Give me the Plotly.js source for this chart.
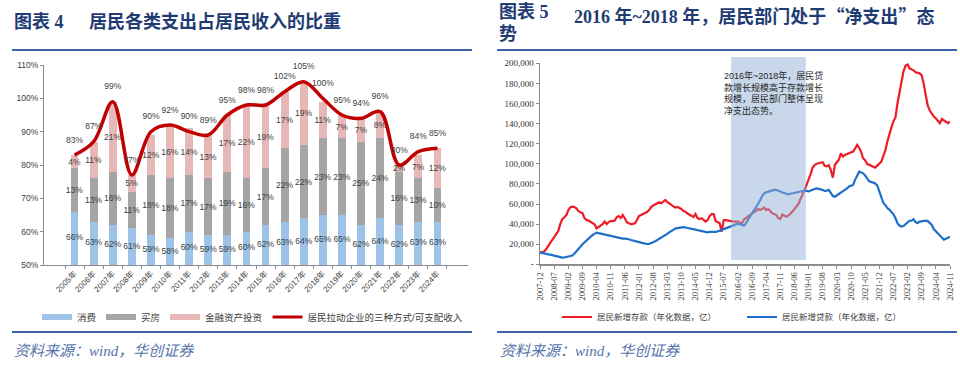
<!DOCTYPE html>
<html>
<head>
<meta charset="utf-8">
<script src="https://cdn.plot.ly/plotly-3.0.1.min.js"></script>
<style>html,body{margin:0;padding:0;background:#fff;}#chart{width:960px;height:369px;}</style>
</head>
<body>
<div id="chart"></div>
<script>
// ---------- Left chart data (图表4) ----------
const years = ['2005年','2006年','2007年','2008年','2009年','2010年','2011年','2012年','2013年','2014年','2015年','2016年','2017年','2018年','2019年','2020年','2021年','2022年','2023年','2024年'];
const consumption = [66,63,62,61,59,58,60,59,59,60,62,63,64,65,65,62,64,62,63,63];
const housing     = [13,13,16,11,18,18,17,17,19,16,17,22,22,23,23,25,24,16,13,10];
const financial   = [4,11,21,5,12,16,14,13,17,22,19,17,19,11,7,7,8,2,7,12];
const totalRatio  = [83,87,99,77,90,92,90,89,95,98,98,102,105,100,95,94,96,80,84,85];
const leftNames = ['消费','买房','金融资产投资','居民拉动企业的三种方式/可支配收入'];
const leftRange = [50,110];

// ---------- Right chart data (图表5), 2007-12 .. 2024-11 monthly, 亿 ----------
const startMonth = '2007-12';
const deposits = [
11600,12000,12600,15000,17600,21000,24000,27000,29000,33000,
40000,45000,46800,49000,54000,56700,57400,57000,55700,53000,
51700,51000,46000,44000,43500,42500,41000,39800,35800,37000,
38500,40000,42500,40000,42000,43000,43000,43500,47000,48000,
46000,49000,45800,42000,40800,40000,40200,40800,44000,48000,
49000,50000,50700,52000,54000,57000,58500,59700,61000,61700,
60700,62000,64000,62000,60700,59000,57500,56400,57000,56000,
55000,53000,52400,50500,49800,48400,47000,50000,46000,45000,
45800,44000,42500,44000,48000,50000,50000,43000,41500,40800,
32500,44000,44000,43500,43000,43000,42500,42500,42500,41500,
40800,44500,46000,48000,49800,51000,52400,54000,55000,54000,
55000,56400,54000,55000,53000,50700,50000,49000,46000,45000,
49500,48500,47400,48400,50000,52400,55000,57400,60000,65000,
69000,74000,79000,84000,90000,96000,98800,100000,100500,100500,
101500,98000,97500,98500,93900,86200,98800,101500,104000,110500,
107100,108800,109500,110500,111000,112100,115000,118800,116000,112000,
105500,103500,100000,98800,97900,97000,96200,98000,100000,102200,
108000,113000,122000,130000,136000,142000,146000,160000,172000,183400,
192000,197500,199000,195000,194000,193000,191000,190500,190000,188000,
180000,168500,158000,153000,149300,147000,145300,142500,140300,144600,
143000,142000,140500,142000];
const loans = [
11600,11300,11000,10500,10000,9500,9200,8600,8000,7300,
6800,6600,6800,7300,7600,7600,8800,10500,12600,15000,
17500,20000,22000,23900,25700,27500,29200,30300,31500,31000,
30500,29900,29300,28900,28500,28200,27800,27000,26500,26000,
25500,25500,25600,25500,24900,24200,23800,23500,22800,22300,
21600,21000,20500,20200,20400,20900,22000,23000,24200,25300,
26000,27400,28700,30200,31800,33200,34400,35500,36000,36500,
36800,36900,36600,36300,36000,35600,35000,34500,34000,33500,
33200,32600,32000,31800,32200,32500,32300,32200,32600,33200,
34000,35000,35800,36500,37200,38000,39000,40000,40500,40000,
39000,38500,41000,44500,48000,51000,54000,57000,60000,64000,
68000,70500,71600,72300,73000,73500,74000,74000,73500,72500,
71500,70700,70000,69700,70200,70700,71000,71300,71500,72200,
73000,73300,73000,72500,73500,74600,75000,75500,75300,74500,
74000,73000,73300,74000,71000,68000,67300,68500,69700,71000,
72500,74000,75500,77500,78500,79000,84000,89000,92200,91500,
90500,88500,85500,82500,82000,81300,80500,78300,72500,66000,
61000,59000,56000,54500,52600,50000,46000,41000,38500,37500,
38000,40000,42500,43300,43500,44800,42000,41000,42500,43000,
43500,43400,43000,41000,39100,35000,33000,30500,29000,26500,
24500,25500,26500,27500];
const rightNames = ['居民新增存款（年化数据，亿）','居民新增贷款（年化数据，亿）'];
const yTickVals = [0,20000,40000,60000,80000,100000,120000,140000,160000,180000,200000];
const yTickText = ['-','20,000','40,000','60,000','80,000','100,000','120,000','140,000','160,000','180,000','200,000'];
const shadeStart = '2015-10-20', shadeEnd = '2018-11-20';
const noteText = '2016年~2018年，居民贷<br>款增长规模高于存款增长<br>规模，居民部门整体呈现<br>净支出态势。';

// month labels
const months = [];
{
  let y = +startMonth.slice(0,4), m = +startMonth.slice(5,7);
  for (let i = 0; i < deposits.length; i++) {
    months.push(y + '-' + String(m).padStart(2,'0') + '-01');
    m++; if (m > 12) { m = 1; y++; }
  }
}

// ---------- styling ----------
const W = 960, H = 369;
const px = v => v / W, py = v => 1 - v / H;
const SANS = 'Liberation Sans, Noto Sans CJK SC, sans-serif';
const SERIF = 'Liberation Serif, Noto Sans CJK SC, serif';
const TXT = '#404040';
const C_BLUE = '#9DC3E6', C_GRAY = '#A5A5A5', C_PINK = '#E6B9B8', C_RED = '#C00000';
const pct = arr => arr.map(v => v + '%');
const barCommon = {type:'bar', x: years, xaxis:'x', yaxis:'y', textposition:'inside', insidetextanchor:'middle',
  textangle:0, constraintext:'none', textfont:{size:8.5, color:TXT, family:SANS}, showlegend:false, hoverinfo:'skip'};

const traces = [
  Object.assign({}, barCommon, {name:leftNames[0], y:consumption, textposition:'none', marker:{color:C_BLUE}}),
  Object.assign({}, barCommon, {name:leftNames[1], y:housing, text:pct(housing), marker:{color:C_GRAY}}),
  Object.assign({}, barCommon, {name:leftNames[2], y:financial, text:pct(financial), marker:{color:C_PINK}}),
  // consumption labels, centred in the visible part of the bar (axis floor .. value)
  {type:'scatter', mode:'text', x:years, y:consumption.map(v => (leftRange[0] + v) / 2), text:pct(consumption),
   textposition:'middle center', textfont:{size:8.5, color:TXT, family:SANS}, xaxis:'x', yaxis:'y', showlegend:false, hoverinfo:'skip'},
  {type:'scatter', mode:'lines+markers+text', name:leftNames[3], x:years, y:totalRatio, xaxis:'x', yaxis:'y',
   line:{color:C_RED, width:3.5, shape:'spline', smoothing:1}, text:pct(totalRatio), textposition:'top center',
   textfont:{size:8.5, color:TXT, family:SANS}, marker:{size:15, opacity:0, color:C_RED}, showlegend:false, cliponaxis:false},
  // legend entries (left)
  {type:'scatter', mode:'lines', name:leftNames[0], x:[null], y:[null], xaxis:'x', yaxis:'y', line:{color:C_BLUE, width:6}, legend:'legend'},
  {type:'scatter', mode:'lines', name:leftNames[1], x:[null], y:[null], xaxis:'x', yaxis:'y', line:{color:C_GRAY, width:6}, legend:'legend'},
  {type:'scatter', mode:'lines', name:leftNames[2], x:[null], y:[null], xaxis:'x', yaxis:'y', line:{color:C_PINK, width:6}, legend:'legend'},
  {type:'scatter', mode:'lines', name:leftNames[3], x:[null], y:[null], xaxis:'x', yaxis:'y', line:{color:C_RED, width:3}, legend:'legend'},
  // right chart
  {type:'scatter', mode:'lines', name:rightNames[0], x:months, y:deposits, xaxis:'x2', yaxis:'y2',
   line:{color:'#EE1C25', width:2.2}, legend:'legend2'},
  {type:'scatter', mode:'lines', name:rightNames[1], x:months, y:loans, xaxis:'x2', yaxis:'y2',
   line:{color:'#1F6FC8', width:2.2}, legend:'legend2'}
];

const axisLine = {showline:true, linecolor:'#8C8C8C', linewidth:1, showgrid:false, zeroline:false, fixedrange:true};
const CJK = 'font-family:Noto Sans CJK SC';
const layout = {
  width: W, height: H, margin:{l:0, r:0, t:0, b:0}, paper_bgcolor:'#ffffff', plot_bgcolor:'rgba(0,0,0,0)',
  barmode:'stack', bargap:0.59,
  xaxis: Object.assign({}, axisLine, {domain:[px(44), px(468)], anchor:'y', type:'category', tickangle:-45,
    ticks:'outside', ticklen:3, tickson:'boundaries', tickcolor:'#8C8C8C',
    tickfont:{size:8, color:TXT, family:SANS}}),
  yaxis: Object.assign({}, axisLine, {domain:[py(265), py(65)], anchor:'x', range:leftRange, dtick:10, ticksuffix:'%',
    ticks:'outside', ticklen:3, tickcolor:'#8C8C8C', tickfont:{size:8.5, color:TXT, family:SANS}}),
  xaxis2: Object.assign({}, axisLine, {domain:[px(540), px(950)], anchor:'y2', type:'date',
    range:['2007-12-01','2024-11-01'], tick0:'2007-12-01', dtick:'M7', tickformat:'%Y-%m', tickangle:-90,
    ticks:'outside', ticklen:3, tickcolor:'#8C8C8C', linewidth:1.5, tickfont:{size:8.5, color:'#333', family:SERIF}}),
  yaxis2: Object.assign({}, axisLine, {domain:[py(264.3), py(63.3)], anchor:'x2', range:[0,200000],
    tickvals:yTickVals, ticktext:yTickText, ticks:'outside', ticklen:3, tickcolor:'#8C8C8C', linewidth:1.5,
    tickfont:{size:9, color:'#333', family:SERIF}}),
  legend: {orientation:'h', traceorder:'normal', x:px(37), y:py(317), xanchor:'left', yanchor:'middle', bgcolor:'rgba(0,0,0,0)',
    font:{size:9.5, color:TXT, family:SANS}, itemwidth:30},
  legend2: {orientation:'h', traceorder:'normal', x:px(557), y:py(317), xanchor:'left', yanchor:'middle', bgcolor:'rgba(0,0,0,0)',
    font:{size:8.5, color:TXT, family:SANS}, itemwidth:30, entrywidth:140, entrywidthmode:'pixels'},
  shapes: [
    {type:'line', xref:'paper', yref:'paper', x0:px(12), x1:px(472), y0:py(50), y1:py(50), line:{color:'#3D64A6', width:2}},
    {type:'line', xref:'paper', yref:'paper', x0:px(12), x1:px(472), y0:py(332), y1:py(332), line:{color:'#3D64A6', width:2}},
    {type:'line', xref:'paper', yref:'paper', x0:px(497), x1:px(957), y0:py(50), y1:py(50), line:{color:'#3D64A6', width:2}},
    {type:'line', xref:'paper', yref:'paper', x0:px(497), x1:px(957), y0:py(332), y1:py(332), line:{color:'#3D64A6', width:2}},
    {type:'rect', xref:'x2', yref:'paper', x0:shadeStart, x1:shadeEnd, y0:py(260), y1:py(57),
     fillcolor:'#93AFD5', opacity:0.5, line:{width:0}, layer:'above'}
  ],
  annotations: [
    {xref:'paper', yref:'paper', x:px(12), y:py(22), xanchor:'left', yanchor:'middle', showarrow:false,
     text:'图表 4', font:{size:18, color:'#1F3C74', family:SERIF, weight:'bold'}},
    {xref:'paper', yref:'paper', x:px(87), y:py(22), xanchor:'left', yanchor:'middle', showarrow:false,
     text:'居民各类支出占居民收入的比重', font:{size:18, color:'#1F3C74', family:SERIF, weight:'bold'}},
    {xref:'paper', yref:'paper', x:px(497), y:py(0), xanchor:'left', yanchor:'top', showarrow:false,
     text:'图表 5', font:{size:18, color:'#1F3C74', family:SERIF, weight:'bold'}},
    {xref:'paper', yref:'paper', x:px(572), y:py(0), xanchor:'left', yanchor:'top', showarrow:false,
     text:'2016 年~2018 年，居民部门处于<span style="' + CJK + '">“</span>净支出<span style="' + CJK + '">”</span>态',
     font:{size:18, color:'#1F3C74', family:SERIF, weight:'bold'}},
    {xref:'paper', yref:'paper', x:px(497), y:py(34), xanchor:'left', yanchor:'middle', showarrow:false,
     text:'势', font:{size:18, color:'#1F3C74', family:SERIF, weight:'bold'}},
    {xref:'paper', yref:'paper', x:px(12), y:py(351), xanchor:'left', yanchor:'middle', showarrow:false,
     text:'资料来源：wind，华创证券', font:{size:15, color:'#5573AA', family:SERIF, style:'italic'}},
    {xref:'paper', yref:'paper', x:px(498), y:py(351), xanchor:'left', yanchor:'middle', showarrow:false,
     text:'资料来源：wind，华创证券', font:{size:15, color:'#5573AA', family:SERIF, style:'italic'}},
    {xref:'paper', yref:'paper', x:px(722), y:py(68), xanchor:'left', yanchor:'top', showarrow:false, align:'left',
     text:noteText, font:{size:9, color:'#262626', family:SANS}}
  ]
};

Plotly.newPlot('chart', traces, layout, {staticPlot:true, displayModeBar:false});
</script>
</body>
</html>
